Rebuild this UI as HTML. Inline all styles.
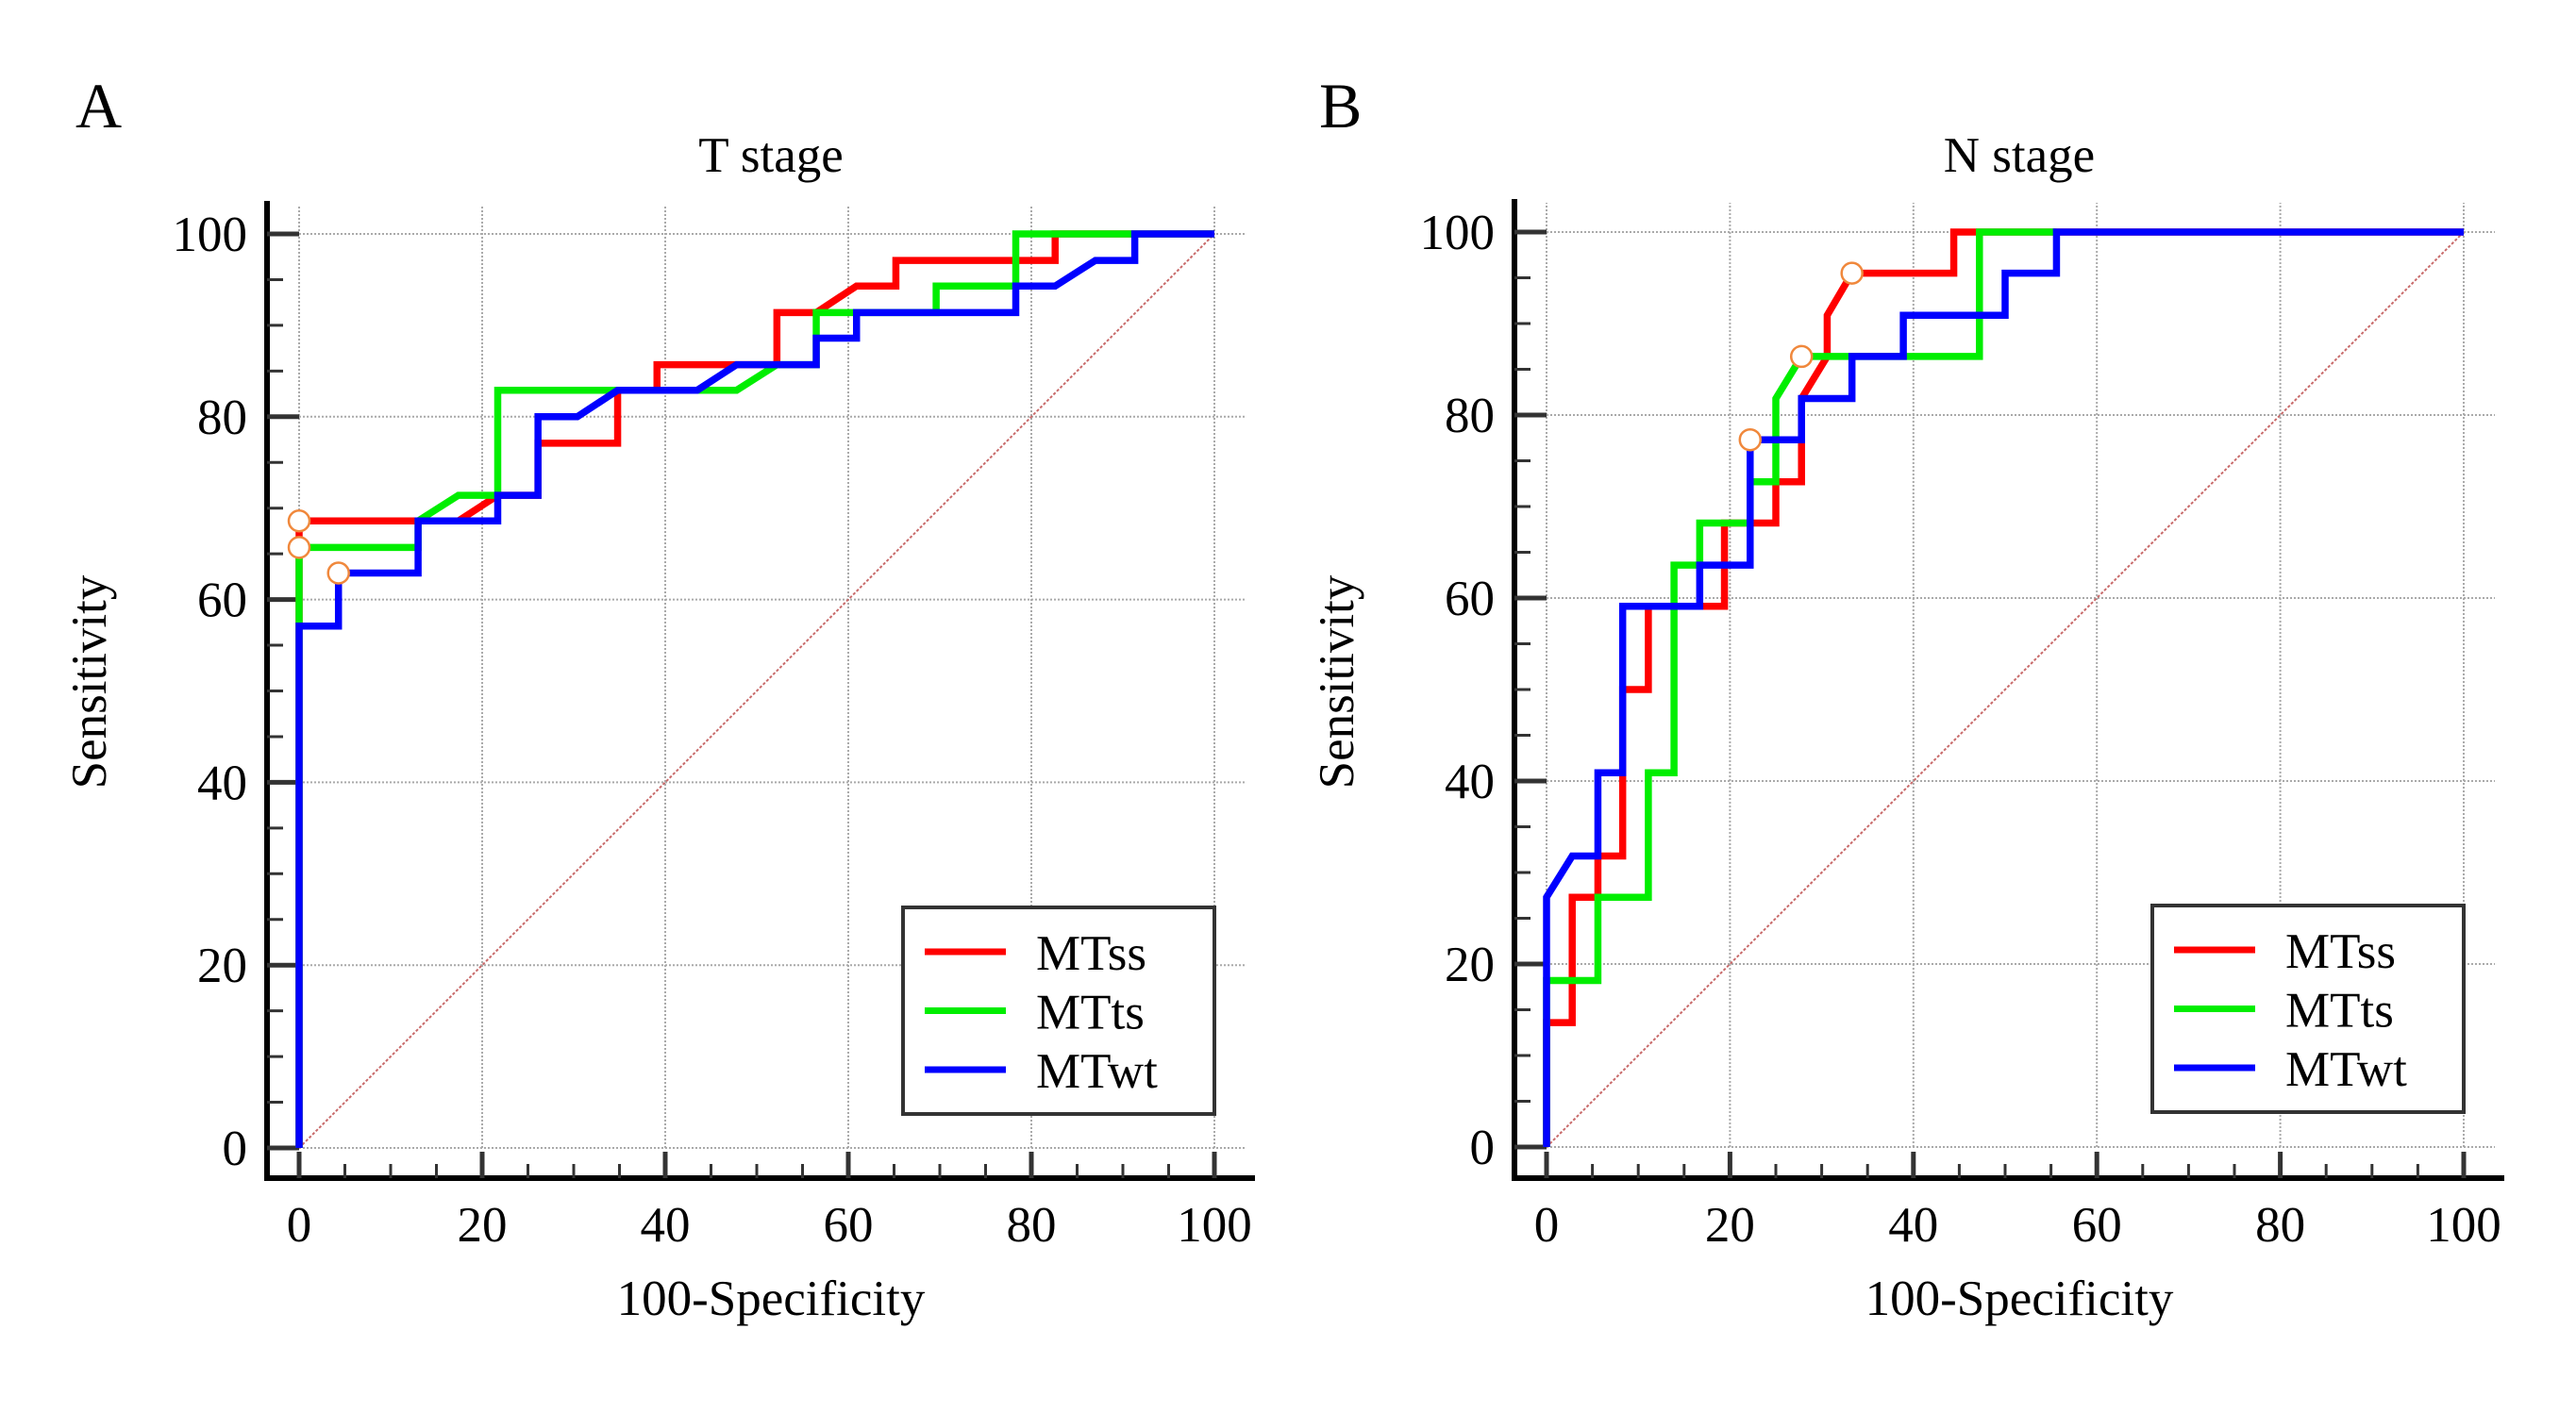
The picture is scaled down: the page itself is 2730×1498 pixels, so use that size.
<!DOCTYPE html>
<html><head><meta charset="utf-8"><style>
html,body{margin:0;padding:0;background:#fff;}
svg{display:block;font-family:"Liberation Serif",serif;}
</style></head><body>
<svg id="chart" width="2730" height="1498" viewBox="0 0 2730 1498" xmlns="http://www.w3.org/2000/svg">
<rect x="0" y="0" width="2730" height="1498" fill="#fff"/>
</svg>
<script>
const ticks = [0, 20, 40, 60, 80, 100];
const tickLabels = ["0", "20", "40", "60", "80", "100"];
const seriesNames = ["MTss", "MTts", "MTwt"];
const panelTitles = ["T stage", "N stage"];
const panelLetters = ["A", "B"];
// Panel A (T stage) series: [100-specificity, sensitivity]
const aMTssX = [0,0,17.4,21.7,26.1,26.1,34.8,34.8,39.1,39.1,52.2,52.2,56.5,60.9,65.2,65.2,82.6,82.6,100];
const aMTssY = [0,68.6,68.6,71.4,71.4,77.1,77.1,82.9,82.9,85.7,85.7,91.4,91.4,94.3,94.3,97.1,97.1,100,100];
const aMTtsX = [0,0,13.0,13.0,17.4,21.7,21.7,47.8,52.2,56.5,56.5,69.6,69.6,78.3,78.3,100];
const aMTtsY = [0,65.7,65.7,68.6,71.4,71.4,82.9,82.9,85.7,85.7,91.4,91.4,94.3,94.3,100,100];
const aMTwtX = [0,0,4.3,4.3,13.0,13.0,21.7,21.7,26.1,26.1,30.4,34.8,43.5,47.8,56.5,56.5,60.9,60.9,78.3,78.3,82.6,87.0,91.3,91.3,100];
const aMTwtY = [0,57.1,57.1,62.9,62.9,68.6,68.6,71.4,71.4,80,80,82.9,82.9,85.7,85.7,88.6,88.6,91.4,91.4,94.3,94.3,97.1,97.1,100,100];
const aCutX = [0, 0, 4.3];
const aCutY = [68.6, 65.7, 62.9];
// Panel B (N stage)
const bMTssX = [0,0,2.8,2.8,5.6,5.6,8.3,8.3,11.1,11.1,19.4,19.4,25,25,27.8,27.8,30.6,30.6,33.3,44.4,44.4,100];
const bMTssY = [0,13.6,13.6,27.3,27.3,31.8,31.8,50,50,59.1,59.1,68.2,68.2,72.7,72.7,81.8,86.4,90.9,95.5,95.5,100,100];
const bMTtsX = [0,0,5.6,5.6,11.1,11.1,13.9,13.9,16.7,16.7,22.2,22.2,25,25,27.8,47.2,47.2,55.6];
const bMTtsY = [0,18.2,18.2,27.3,27.3,40.9,40.9,63.6,63.6,68.2,68.2,72.7,72.7,81.8,86.4,86.4,100,100];
const bMTwtX = [0,0,2.8,5.6,5.6,8.3,8.3,16.7,16.7,22.2,22.2,27.8,27.8,33.3,33.3,38.9,38.9,50,50,55.6,55.6,100];
const bMTwtY = [0,27.3,31.8,31.8,40.9,40.9,59.1,59.1,63.6,63.6,77.3,77.3,81.8,81.8,86.4,86.4,90.9,90.9,95.5,95.5,100,100];
const bCutX = [33.3, 27.8, 22.2];
const bCutY = [95.5, 86.4, 77.3];

const NS = "http://www.w3.org/2000/svg";
const svg = document.getElementById("chart");
const colors = ["#ff0000", "#00ee00", "#0000ff"];
function mk(tag, attrs, parent) {
  const e = document.createElementNS(NS, tag);
  for (const k in attrs) e.setAttribute(k, attrs[k]);
  (parent || svg).appendChild(e);
  return e;
}
const panels = [
  {x0: 317, x1: 1287, y0: 1217, y1: 248, axL: 283, axB: 1249, xs: [aMTssX, aMTtsX, aMTwtX], ys: [aMTssY, aMTtsY, aMTwtY], cx: aCutX, cy: aCutY, lx: 957, ly: 962},
  {x0: 1639, x1: 2611, y0: 1216, y1: 246, axL: 1605, axB: 1249, xs: [bMTssX, bMTtsX, bMTwtX], ys: [bMTssY, bMTtsY, bMTwtY], cx: bCutX, cy: bCutY, lx: 2281, ly: 960}
];
panels.forEach((p, pi) => {
  const g = mk("g", {});
  
  
  const sx = v => p.x0 + (p.x1 - p.x0) * v / 100;
  const sy = v => p.y0 + (p.y1 - p.y0) * v / 100;
  ticks.forEach(t => {
    const gv = mk("line", {x1: sx(t), x2: sx(t), y1: p.y0, y2: p.y1 - 31, stroke: "#aaa", "stroke-width": 2, "stroke-dasharray": "2,2"}, g);
    
    
    const gh = mk("line", {x1: p.x0, x2: p.x1 + 33, y1: sy(t), y2: sy(t), stroke: "#aaa", "stroke-width": 2, "stroke-dasharray": "2,2"}, g);
    
    
  });
  const ya = mk("line", {x1: p.axL, x2: p.axL, y1: p.y1 - 35, y2: p.axB + 3, stroke: "#000", "stroke-width": 6}, g);
  
  
  const xa = mk("line", {x1: p.axL - 3, x2: p.x1 + 43, y1: p.axB, y2: p.axB, stroke: "#000", "stroke-width": 6}, g);
  
  
  for (let v = 0; v <= 100; v += 5) {
    const major = v % 20 === 0;
    mk("line", {x1: p.axL, x2: major ? sx(0) : p.axL + 17, y1: sy(v), y2: sy(v), stroke: "#333", "stroke-width": major ? 5 : 3}, g);
    mk("line", {x1: sx(v), x2: sx(v), y1: p.axB, y2: major ? p.axB - 28 : p.axB - 15, stroke: "#333", "stroke-width": major ? 5 : 3}, g);
  }
  ticks.forEach((t, i) => {
    const yl = mk("text", {x: p.axL - 21, y: sy(t) + 18, "font-size": 53, "text-anchor": "end", fill: "#000"}, g);
    yl.textContent = tickLabels[i];
    
    
    const xl = mk("text", {x: sx(t), y: p.axB + 67, "font-size": 53, "text-anchor": "middle", fill: "#000"}, g);
    xl.textContent = tickLabels[i];
    
    
  });
  const dg = mk("line", {x1: sx(0), y1: sy(0), x2: sx(100), y2: sy(100), stroke: "#c86a6a", "stroke-width": 2, "stroke-dasharray": "3,2"}, g);
  
  
  p.xs.forEach((xsArr, si) => {
    const pts = xsArr.map((x, k) => sx(x) + "," + sy(p.ys[si][k])).join(" ");
    const pl = mk("polyline", {points: pts, fill: "none", stroke: colors[si], "stroke-width": 7.5, "stroke-linejoin": "miter"}, g);
    
    
  });
  p.cx.forEach((cxv, si) => {
    const c = mk("circle", {cx: sx(cxv), cy: sy(p.cy[si]), r: 11, fill: "#fff", stroke: "#f0883c", "stroke-width": 2.5}, g);
    
    
  });
  const lg = mk("g", {}, g);
  
  
  mk("rect", {x: p.lx, y: p.ly, width: 330, height: 219, fill: "#fff", stroke: "#333", "stroke-width": 4}, lg);
  seriesNames.forEach((n, si) => {
    const yy = p.ly + 47 + si * 62.5;
    const ll = mk("line", {x1: p.lx + 23, x2: p.lx + 109, y1: yy, y2: yy, stroke: colors[si], "stroke-width": 7}, lg);
    
    
    const lt = mk("text", {x: p.lx + 141, y: yy + 19, "font-size": 53, fill: "#000"}, lg);
    lt.textContent = n;
    
    
  });
  const cxm = (p.x0 + p.x1) / 2 + 15;
  const tt = mk("text", {x: cxm, y: 182, "font-size": 53, "text-anchor": "middle", fill: "#000"}, g);
  tt.textContent = panelTitles[pi];
  
  
  const xt = mk("text", {x: cxm, y: 1394, "font-size": 53, "text-anchor": "middle", fill: "#000"}, g);
  xt.textContent = "100-Specificity";
  
  
  const ytx = p.axL - 171;
  const yt = mk("text", {x: ytx, y: 723, "font-size": 53, "text-anchor": "middle", fill: "#000", transform: "rotate(-90 " + ytx + " 723)"}, g);
  yt.textContent = "Sensitivity";
  
  
  const pl = mk("text", {x: pi === 0 ? 80 : 1398, y: 135, "font-size": 68, fill: "#000"}, g);
  pl.textContent = panelLetters[pi];
  
  
});
</script>
</body></html>
